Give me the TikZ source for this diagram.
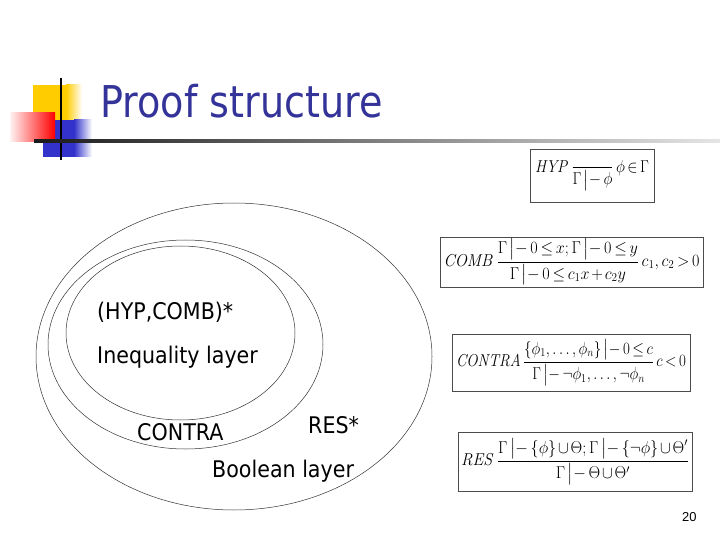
\documentclass[tikz,border=0pt]{standalone}
\usepackage[no-math]{fontspec}
\usepackage{amsmath}
\usepackage{graphicx}
\newfontfamily\slidefont[FakeStretch=0.87]{DejaVu Sans}
\newfontfamily\layerfont[FakeStretch=0.9]{DejaVu Sans}
\newfontfamily\numfont{Liberation Sans}
\definecolor{titleblue}{RGB}{51,51,153}
\definecolor{logoyellow}{RGB}{255,204,0}
\definecolor{logoblue}{RGB}{51,51,204}
\newcommand{\proves}{\mathrel{\big|-}}
\newcommand{\rulefit}[2]{\resizebox{#1}{\height}{$\medmuskip=2mu\thickmuskip=3mu\displaystyle #2$}}
\tikzset{
  layer/.style={draw=black!80, line width=0.5bp},
  layertext/.style={font=\layerfont\fontsize{23}{27}\selectfont, anchor=base west, inner sep=0pt},
  rulebox/.style={draw=black!70, line width=0.6bp, inner sep=0pt, font=\fontsize{17.28pt}{20pt}\selectfont}
}

\begin{document}
\begin{tikzpicture}[x=1bp, y=-1bp]
\useasboundingbox (0,0) rectangle (720,540);
%logo
\fill[logoyellow] (33,85) rectangle (66,120);
\shade[left color=logoyellow, right color=white] (66,85) rectangle (82,120);
\fill[logoblue] (43,120) rectangle (74,157);
\shade[left color=logoblue, right color=white] (74,120) rectangle (92,157);
\shade[left color=red!5, right color=red] (10,113) rectangle (55,142);
\draw[black, line width=2bp] (61,78) -- (61,160);
%title rule
\shade[left color=black!90, right color=black!10] (34,139.8) rectangle (720,142.2);
%title
\node[font=\slidefont\fontsize{44}{50}\selectfont, text=titleblue, anchor=base west, inner sep=0pt] (title) at (100,118) {Proof structure};

%layers
\draw[layer] (234,356.5) ellipse [x radius=198, y radius=153.5];
\draw[layer] (185.5,344.5) ellipse [x radius=137.5, y radius=104.5];
\draw[layer] (180.5,333) ellipse [x radius=114.5, y radius=87];
\node[layertext] (hypcomb) at (97,319) {(HYP,COMB)*};
\node[layertext] (ineq) at (97,363) {Inequality layer};
\node[layertext] (contra) at (137,440) {CONTRA};
\node[layertext] (res) at (308,433) {RES*};
\node[layertext] (bool) at (212,477) {Boolean layer};

%rules
\node[rulebox, minimum width=124bp, minimum height=53bp] (hyp) at (592,175.5)
  {\rulefit{114bp}{\mathit{HYP}\,\frac{}{\Gamma\proves\phi}\,\phi\in\Gamma}};
\node[rulebox, minimum width=263bp, minimum height=50bp] (comb) at (571.5,262)
  {\rulefit{256bp}{\mathit{COMB}\,\frac{\Gamma\proves 0\le x;\Gamma\proves 0\le y}{\Gamma\proves 0\le c_1x+c_2y}\,c_1,c_2>0}};
\node[rulebox, minimum width=238bp, minimum height=57bp] (contrarule) at (571,362.5)
  {\rulefit{230bp}{\mathit{CONTRA}\,\frac{\{\phi_1,\ldots,\phi_n\}\proves 0\le c}{\Gamma\proves\neg\phi_1,\ldots,\neg\phi_n}\,c<0}};
\node[rulebox, minimum width=234bp, minimum height=59bp] (resrule) at (575,461.5)
  {\rulefit{228bp}{\mathit{RES}\,\frac{\Gamma\proves\{\phi\}\cup\Theta;\Gamma\proves\{\neg\phi\}\cup\Theta'}{\Gamma\proves\Theta\cup\Theta'}}};

%page number
\node[font=\numfont\fontsize{13}{15}\selectfont, anchor=base west, inner sep=0pt] (page) at (682,521) {20};
\end{tikzpicture}
\end{document}
